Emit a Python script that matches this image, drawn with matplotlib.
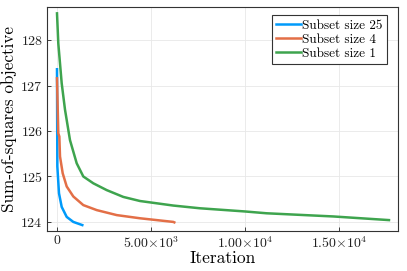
import matplotlib
matplotlib.use("Agg")
import matplotlib.pyplot as plt
from matplotlib.ticker import FixedLocator, FixedFormatter

plt.rcParams['font.family'] = ['cmr10', 'DejaVu Serif']
plt.rcParams['mathtext.fontset'] = 'cm'
plt.rcParams['axes.unicode_minus'] = False
plt.rcParams['axes.formatter.use_mathtext'] = True

# data
iter_25 = [0, 18, 106, 250, 516, 867, 1346]
obj_25 = [127.36, 125.22, 124.63, 124.33, 124.11, 124.00, 123.93]

iter_4 = [0, 69, 124, 160, 303, 516, 867, 1399, 2112, 3176, 4415, 6186, 6240]
obj_4 = [127.16, 125.95, 125.88, 125.44, 125.07, 124.78, 124.56, 124.37, 124.26, 124.15, 124.08, 124.00, 123.99]

iter_1 = [0, 69, 250, 426, 691, 1048, 1399, 1931, 2644, 3527, 4415, 5303,
          6186, 7606, 10000, 11150, 14700, 17660]
obj_1 = [128.59, 127.93, 127.05, 126.47, 125.80, 125.29, 125.00, 124.85, 124.70,
         124.55, 124.46, 124.41, 124.36, 124.30, 124.23, 124.19, 124.12, 124.04]

x_ticks = [0, 5000, 10000, 15000]
x_labels = ['0', r'$5.00{\times}10^{3}$', r'$1.00{\times}10^{4}$', r'$1.50{\times}10^{4}$']
y_ticks = [124, 125, 126, 127, 128]

fig = plt.figure(figsize=(4.07, 2.71), dpi=100)
ax = fig.add_axes([47/407, 1 - 231/271, (398-47)/407, (231-7)/271])

ax.plot(iter_25, obj_25, color='#009AFA', lw=1.8, label='Subset size 25')
ax.plot(iter_4, obj_4, color='#E36F47', lw=1.8, label='Subset size 4')
ax.plot(iter_1, obj_1, color='#3EA44E', lw=1.8, label='Subset size 1')

ax.set_xlim(-532, 18140)
ax.set_ylim(123.80, 128.73)
ax.xaxis.set_major_locator(FixedLocator(x_ticks))
ax.xaxis.set_major_formatter(FixedFormatter(x_labels))
ax.set_yticks(y_ticks)
ax.tick_params(direction='in', length=3, width=0.6, labelsize=10, colors='#222222', pad=3)
ax.grid(True, color='#e8e8e8', lw=0.6)
ax.set_axisbelow(True)
for s in ax.spines.values():
    s.set_color('#333333')
    s.set_linewidth(0.8)

ax.set_xlabel('Iteration', fontsize=12.5, labelpad=0)
ax.set_ylabel('Sum-of-squares objective', fontsize=12.3, labelpad=2)

leg = ax.legend(loc='upper right', fontsize=9.5, handlelength=1.9, handletextpad=0.05,
                labelspacing=0.12, borderpad=0.35, borderaxespad=0, fancybox=False,
                framealpha=1, edgecolor='#333333', bbox_to_anchor=(0.969, 0.964))
leg.get_frame().set_linewidth(0.8)

fig.savefig('out.png', dpi=100)
